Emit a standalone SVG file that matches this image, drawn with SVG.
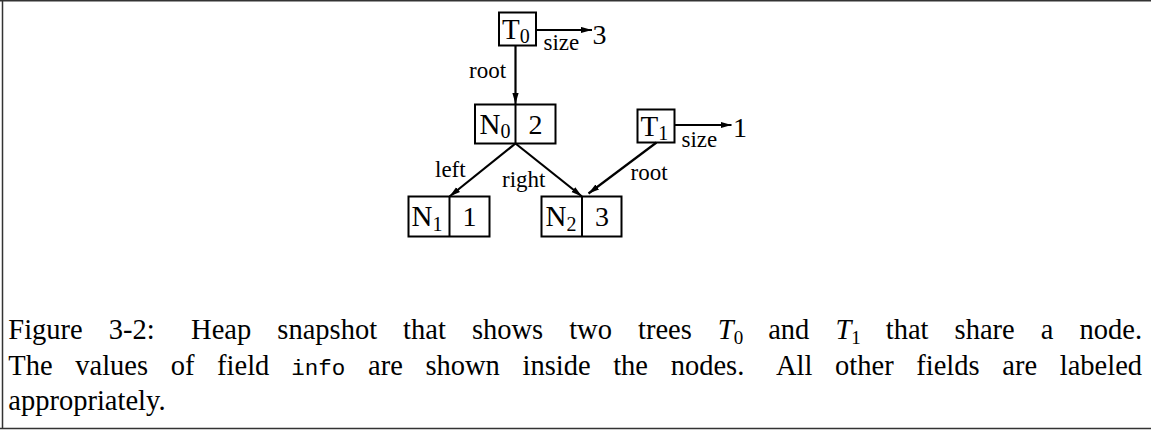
<svg xmlns="http://www.w3.org/2000/svg" width="1151" height="431" viewBox="0 0 1151 431">
<style>
.box{fill:none;stroke:#000;stroke-width:2}
.edge{fill:none;stroke:#000;stroke-width:2.2;marker-end:url(#ah)}
.nl{font-family:"Liberation Serif","Times New Roman",serif;font-size:29px;fill:#000}
.sub{font-size:20px}
.val{font-family:"Liberation Serif","Times New Roman",serif;font-size:28px;fill:#000}
.lab{font-family:"Liberation Serif","Times New Roman",serif;font-size:23px;fill:#000}
.cap{font-family:"Liberation Serif","Times New Roman",serif;font-size:28.5px;fill:#000}
.mono{font-family:"Liberation Mono","Courier New",monospace;font-size:22.5px}
.frame{stroke:#333;stroke-width:1.5;fill:none}
</style>
<defs>
<marker id="ah" viewBox="0 0 11 7" refX="11" refY="3.5" markerWidth="11" markerHeight="7" markerUnits="userSpaceOnUse" orient="auto">
<path d="M0,0.4 L11,3.5 L0,6.6 Z" fill="#000"/>
</marker>
</defs>
<rect width="1151" height="431" fill="#fff"/>
<path class="frame" d="M0,0.75 H1151 M2.5,0 V428.5 M0,428.5 H1151"/>

<g id="connectors">
<path class="edge" d="M515.5,46 L515.5,104"/>
<path class="edge" d="M536,30 L592,30"/>
<path class="edge" d="M515.5,143.5 L449.5,196.5"/>
<path class="edge" d="M515.5,143.5 L582,196.5"/>
<path class="edge" d="M656.5,142.5 L588.5,193.5"/>
<path class="edge" d="M674.5,125 L731.5,125"/>
<text class="lab" x="543.5" y="50">size</text>
<text class="lab" x="469" y="78">root</text>
<text class="lab" x="435" y="177">left</text>
<text class="lab" x="502" y="186.5">right</text>
<text class="lab" x="630.5" y="180">root</text>
<text class="lab" x="681.5" y="146.5">size</text>
</g>

<g id="T0">
<rect class="box" x="499" y="12.5" width="37" height="33"/>
<text class="nl" x="502" y="38.5">T<tspan class="sub" dy="4.5">0</tspan></text>
</g>
<g id="size0">
<text class="val" x="592.5" y="43.5">3</text>
</g>
<g id="N0">
<rect class="box" x="475" y="104.5" width="80.5" height="39"/>
<line class="box" x1="515.5" y1="104.5" x2="515.5" y2="143.5"/>
<text class="nl" x="479.5" y="133.5">N<tspan class="sub" dy="4.5">0</tspan></text>
<text class="val" x="535.5" y="133.5" text-anchor="middle">2</text>
</g>
<g id="T1">
<rect class="box" x="637.5" y="109.5" width="37" height="33"/>
<text class="nl" x="640.5" y="135.5">T<tspan class="sub" dy="4.5">1</tspan></text>
</g>
<g id="size1">
<text class="val" x="733" y="137">1</text>
</g>
<g id="N1">
<rect class="box" x="408.5" y="196.5" width="81" height="40"/>
<line class="box" x1="449.5" y1="196.5" x2="449.5" y2="236.5"/>
<text class="nl" x="411.5" y="226">N<tspan class="sub" dy="4.5">1</tspan></text>
<text class="val" x="469.5" y="226" text-anchor="middle">1</text>
</g>
<g id="N2">
<rect class="box" x="541.5" y="196.5" width="80" height="40"/>
<line class="box" x1="582" y1="196.5" x2="582" y2="236.5"/>
<text class="nl" x="545.5" y="226">N<tspan class="sub" dy="4.5">2</tspan></text>
<text class="val" x="602" y="226" text-anchor="middle">3</text>
</g>

<g id="caption">
<text class="cap" y="339"><tspan x="8.3">Figure</tspan><tspan x="108.7">3-2:</tspan><tspan x="191.1">Heap</tspan><tspan x="277.3">snapshot</tspan><tspan x="403.1">that</tspan><tspan x="471.9">shows</tspan><tspan x="569.2">two</tspan><tspan x="638">trees</tspan><tspan x="717.8" font-style="italic">T</tspan><tspan font-size="19" dy="5">0</tspan><tspan x="768.2" dy="-5">and</tspan><tspan x="835.4" font-style="italic">T</tspan><tspan font-size="19" dy="5">1</tspan><tspan x="885.8" dy="-5">that</tspan><tspan x="954.6">share</tspan><tspan x="1040.8">a</tspan><tspan x="1079.5">node.</tspan></text>
<text class="cap" y="374.5"><tspan x="8.3">The</tspan><tspan x="75.3">values</tspan><tspan x="170.8">of</tspan><tspan x="217.1">field</tspan><tspan x="291.3" class="mono">info</tspan><tspan x="368">are</tspan><tspan x="425.4">shown</tspan><tspan x="522.5">inside</tspan><tspan x="613.2">the</tspan><tspan x="670.7">nodes.</tspan><tspan x="776">All</tspan><tspan x="835.1">other</tspan><tspan x="916.3">fields</tspan><tspan x="1002.3">are</tspan><tspan x="1059.8">labeled</tspan></text>
<text class="cap" x="8.3" y="410">appropriately.</text>
</g>
</svg>
